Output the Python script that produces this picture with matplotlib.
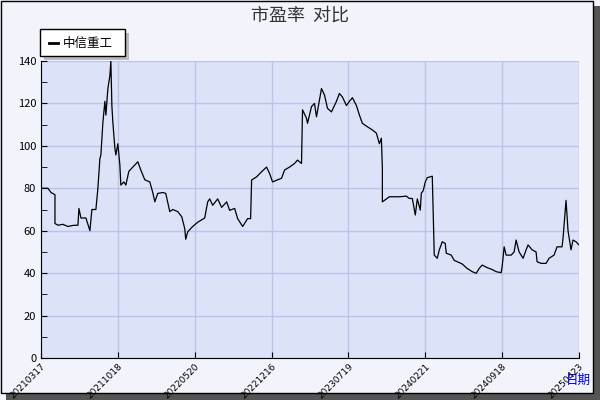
import matplotlib
matplotlib.use('Agg')
import matplotlib.pyplot as plt
from matplotlib.patches import Rectangle
from matplotlib.ticker import MultipleLocator

plt.rcParams['font.family'] = ['Noto Sans CJK SC', 'DejaVu Sans']

# 数据（横坐标为交易日位置，纵坐标为市盈率）
t = [0, 0, 4, 7, 10, 14, 14, 17, 22, 27, 32, 37, 38, 40, 45, 49, 51, 55, 57, 59, 60,
     62, 64, 65, 67, 69, 70, 71, 72, 74, 75, 77, 79, 80, 83, 85, 88, 90, 94, 97, 100,
     104, 109, 112, 114, 117, 122, 125, 129, 132, 137, 141, 144, 145, 147, 152, 157,
     164, 167, 169, 172, 177, 181, 186, 189, 194, 197, 202, 207, 210, 211, 216, 221,
     226, 229, 232, 237, 241, 244, 249, 254, 257, 261, 262, 266, 267, 271, 274, 276,
     281, 284, 287, 291, 296, 299, 302, 306, 309, 312, 316, 319, 322, 327, 332, 336,
     339, 341, 342, 342, 349, 359, 366, 369, 372, 375, 377, 380, 381, 383, 385, 387,
     392, 393, 394, 397, 399, 402, 405, 406, 411, 414, 417, 422, 427, 432, 436, 439,
     442, 447, 452, 456, 461, 462, 464, 466, 471, 474, 476, 479, 483, 486, 488, 492,
     496, 497, 501, 506, 509, 514, 517, 522, 523, 525, 526, 528, 531, 533, 536, 539]
pe = [71, 80, 80, 80, 78, 77, 63.4, 62.6, 63, 62, 62.5, 62.6, 70.5, 66, 66, 60, 70,
      70, 80, 94, 95.7, 111, 121, 114.5, 127, 133, 140, 119, 111, 99, 95.7, 101, 91,
      81.5, 83, 81.5, 88, 89, 91, 92.5, 88.6, 84, 83, 78, 73.6, 77.6, 78, 77.6, 69, 70,
      69, 66.6, 61, 56, 59.5, 62, 64, 66, 73.6, 75, 72, 75, 71, 73.6, 69.6, 70.5, 65.7,
      62, 65.7, 65.7, 83.9, 85.4, 87.8, 90, 87, 83, 84, 84.7, 88.6, 90, 91.7, 93.3,
      91.7, 117, 113, 110.6, 118.5, 120, 113.7, 127, 124, 117.7, 116, 121, 124.7, 123,
      119, 121, 122.7, 119, 114.5, 110.6, 109, 107.5, 106, 101, 103.6, 89.4, 73.6, 76,
      76, 76.3, 75.2, 75.2, 67.4, 75, 69.7, 77.6, 79, 83, 85, 85.7, 68, 48.5, 47, 50.9,
      54.8, 54, 49.4, 48.5, 46, 45.4, 44.3, 42.2, 40.7, 39.9, 42.2, 43.8, 42.6, 41.7,
      40.7, 40.2, 43, 52.4, 48.5, 48.5, 50, 55.6, 50, 47, 51, 53.3, 51, 50, 45.4, 44.6,
      44.6, 47, 48.5, 52.4, 52.4, 56.4, 68, 74.3, 60, 51, 55.6, 54.8, 53.3]
tick_pos = [0, 77, 154, 231, 308, 385, 462, 539]
tick_labels = ['20210317', '20211018', '20220520', '20221216', '20230719',
               '20240221', '20240918', '20250423']

fig = plt.figure(figsize=(6, 4), dpi=100)
fig.patch.set_facecolor('#f2f3fb')

# 外框与阴影
fig.patches.append(Rectangle((6 / 600, 0), 594 / 600, 394 / 400, transform=fig.transFigure,
                             facecolor='#555555', edgecolor='none', zorder=-2))
fig.patches.append(Rectangle((0.5 / 600, 7 / 400), 592 / 600, 392.5 / 400, transform=fig.transFigure,
                             facecolor='#f2f3fb', edgecolor='black', lw=1, zorder=-1))

ax = fig.add_axes([41 / 600, 42 / 400, 538 / 600, 297 / 400])
ax.set_facecolor('#dce2f7')
ax.plot(t, pe, color='black', lw=0.9)
ax.set_xlim(0, 539)
ax.set_ylim(0, 140)
ax.yaxis.set_major_locator(MultipleLocator(20))
ax.yaxis.set_minor_locator(MultipleLocator(10))
ax.set_xticks(tick_pos)
ax.set_xticklabels(tick_labels, rotation=45, ha='right', va='top', rotation_mode='anchor',
                   fontsize=6.5, family='DejaVu Sans')
ax.tick_params(axis='y', labelsize=8, length=4, direction='in')
ax.tick_params(axis='y', which='minor', length=4, direction='in')
ax.tick_params(axis='x', length=4, direction='in', pad=3)
ax.grid(True, color='#b9c4e8', lw=1)
for s in ['top', 'right']:
    ax.spines[s].set_visible(False)

fig.text(0.5, 0.962, '市盈率  对比', ha='center', va='center', fontsize=13, color='#333333')
fig.text(578 / 600, 20 / 400, '日期', ha='center', va='center', fontsize=9, color='#0000ee')

# 图例
fig.patches.append(Rectangle((44 / 600, 340 / 400), 85 / 600, 27 / 400, transform=fig.transFigure,
                             facecolor='#bbbbbb', edgecolor='none'))
fig.patches.append(Rectangle((40 / 600, 344 / 400), 85 / 600, 27 / 400, transform=fig.transFigure,
                             facecolor='white', edgecolor='black', lw=1))
fig.lines.append(plt.Line2D([49 / 600, 58 / 600], [357 / 400, 357 / 400], transform=fig.transFigure,
                            color='black', lw=2))
fig.text(63 / 600, 357 / 400, '中信重工', ha='left', va='center', fontsize=9)

fig.savefig('out.png', dpi=100, facecolor=fig.get_facecolor())
